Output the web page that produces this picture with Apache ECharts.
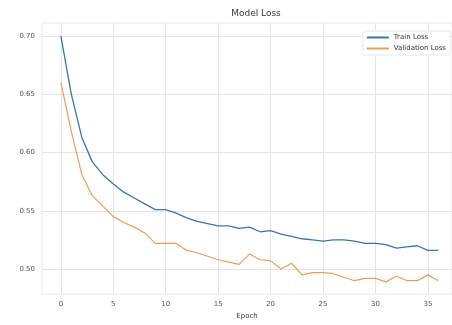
<!DOCTYPE html>
<html>
<head>
<meta charset="utf-8">
<script src="https://cdn.jsdelivr.net/npm/echarts@6/dist/echarts.min.js"></script>
<style>
  html, body { margin: 0; padding: 0; background: #fff; }
  #chart { width: 452px; height: 325px; }
</style>
</head>
<body>
<div id="chart"></div>
<script>
// Loss values per epoch
var epochs = [];
for (var i = 0; i <= 36; i++) epochs.push(i);

var trainLoss = [0.700, 0.650, 0.613, 0.592, 0.581, 0.573, 0.566, 0.561, 0.556, 0.551,
                 0.551, 0.548, 0.544, 0.541, 0.539, 0.537, 0.537, 0.535, 0.536, 0.532,
                 0.533, 0.530, 0.528, 0.526, 0.525, 0.524, 0.525, 0.525, 0.524, 0.522,
                 0.522, 0.521, 0.518, 0.519, 0.520, 0.516, 0.516];

var valLoss = [0.660, 0.618, 0.581, 0.563, 0.554, 0.545, 0.540, 0.536, 0.531, 0.522,
               0.522, 0.522, 0.516, 0.514, 0.511, 0.508, 0.506, 0.504, 0.513, 0.508,
               0.507, 0.500, 0.505, 0.495, 0.497, 0.497, 0.496, 0.493, 0.490, 0.492,
               0.492, 0.489, 0.494, 0.490, 0.490, 0.495, 0.490];

var seriesNames = ['Train Loss', 'Validation Loss'];
var xTicks = [0, 5, 10, 15, 20, 25, 30, 35];
var yTicks = [0.50, 0.55, 0.60, 0.65, 0.70];

function pairs(ys) {
    return ys.map(function (y, i) { return [epochs[i], y]; });
}

var chart = echarts.init(document.getElementById('chart'));

var labelStyle = { color: '#555', fontSize: 7, fontFamily: 'DejaVu Sans' };

var option = {
    animation: false,
    backgroundColor: '#fff',
    title: {
        text: 'Model Loss',
        left: 251, top: 4, textAlign: 'center',
        textStyle: { fontSize: 9, fontWeight: 'normal', color: '#333', fontFamily: 'DejaVu Sans' }
    },
    legend: {
        data: seriesNames,
        orient: 'vertical',
        right: 2, top: 31,
        itemWidth: 22, itemHeight: 2, itemGap: 4,
        padding: [3, 4, 3, 4],
        borderColor: '#e8e8e8', borderWidth: 1, borderRadius: 2,
        backgroundColor: '#fff',
        textStyle: { fontSize: 7, color: '#333', fontFamily: 'DejaVu Sans' },
        icon: 'rect'
    },
    grid: { left: 42, top: 23, right: 0, bottom: 25, containLabel: false,
            show: true, borderColor: '#ebebeb', borderWidth: 1 },
    xAxis: {
        type: 'value',
        min: -1.8, max: 37.3,
        name: 'Epoch', nameLocation: 'middle', nameGap: 14,
        nameTextStyle: { fontSize: 7, color: '#333', fontFamily: 'DejaVu Sans' },
        axisLine: { show: false },
        axisTick: { show: false },
        axisLabel: Object.assign({ margin: 7, customValues: xTicks }, labelStyle),
        splitLine: { show: false }
    },
    yAxis: {
        type: 'value',
        min: 0.4785, max: 0.7112,
        axisLine: { show: false },
        axisTick: { show: false },
        axisLabel: Object.assign({
            margin: 7,
            customValues: yTicks,
            formatter: function (v) { return v.toFixed(2); }
        }, labelStyle),
        splitLine: { show: false }
    },
    series: [
        {
            name: seriesNames[0], type: 'line', data: pairs(trainLoss),
            symbol: 'none', lineStyle: { color: '#3a75ad', width: 1.3 },
            itemStyle: { color: '#3a75ad' }, z: 3,
            markLine: {
                silent: true, symbol: 'none', label: { show: false },
                lineStyle: { color: '#e4e4e4', width: 1, type: 'solid' },
                data: xTicks.map(function (x) { return { xAxis: x }; })
                    .concat(yTicks.map(function (y) { return { yAxis: y }; })),
                z: 1
            }
        },
        {
            name: seriesNames[1], type: 'line', data: pairs(valLoss),
            symbol: 'none', lineStyle: { color: '#f39a55', width: 1.2 },
            itemStyle: { color: '#f39a55' }, z: 4
        }
    ]
};

chart.setOption(option);
</script>
</body>
</html>
